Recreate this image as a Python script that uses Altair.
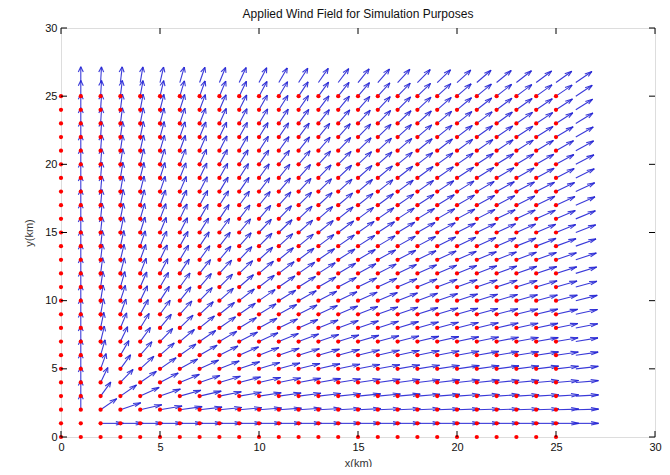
import math
import altair as alt
import pandas as pd

# ---- data -------------------------------------------------------------
dot_x = [0, 1, 2, 3, 4, 5, 6, 7, 8, 9, 10, 11, 12, 13, 14, 15, 16, 17, 18, 19, 20, 21, 22, 23, 24, 25]
dot_y = [0, 1, 2, 3, 4, 5, 6, 7, 8, 9, 10, 11, 12, 13, 14, 15, 16, 17, 18, 19, 20, 21, 22, 23, 24, 25]
arrow_x = [1, 2, 3, 4, 5, 6, 7, 8, 9, 10, 11, 12, 13, 14, 15, 16, 17, 18, 19, 20, 21, 22, 23, 24, 25, 26]
arrow_y = [1, 2, 3, 4, 5, 6, 7, 8, 9, 10, 11, 12, 13, 14, 15, 16, 17, 18, 19, 20, 21, 22, 23, 24, 25, 26]
field_source = [1, 1]        # the wind radiates away from this grid point
arrow_length = 1.15          # km, drawn length of each wind arrow
x_ticks = [0, 5, 10, 15, 20, 25, 30]
y_ticks = [0, 5, 10, 15, 20, 25, 30]

W, H = 594, 409
FONT = "Liberation Sans"

# ---- tables -----------------------------------------------------------
dots = pd.DataFrame([{"x": x, "y": y} for x in dot_x for y in dot_y])

segs = []
alpha, beta = 0.33, 0.33   # MATLAB quiver arrow-head proportions
for x in arrow_x:
    for y in arrow_y:
        dx, dy = x - field_source[0], y - field_source[1]
        r = math.hypot(dx, dy)
        if r == 0:
            continue
        u, v = arrow_length * dx / r, arrow_length * dy / r
        tx, ty = x + u, y + v
        segs.append({"x": x, "y": y, "x2": tx, "y2": ty})
        segs.append({"x": tx - alpha * (u + beta * v), "y": ty - alpha * (v - beta * u), "x2": tx, "y2": ty})
        segs.append({"x": tx - alpha * (u - beta * v), "y": ty - alpha * (v + beta * u), "x2": tx, "y2": ty})
segs = pd.DataFrame(segs)

xt = pd.DataFrame({"t": x_ticks})
yt = pd.DataFrame({"t": y_ticks})

xs = alt.Scale(domain=[0, 30], nice=False, zero=False)
ys = alt.Scale(domain=[0, 30], nice=False, zero=False)

xaxis = alt.Axis(values=x_ticks, title="x(km)", grid=False, ticks=False, domain=False,
                 labelFont=FONT, labelFontSize=11, labelColor="#111", labelPadding=4,
                 titleFont=FONT, titleFontSize=11, titleFontWeight="normal", titleColor="#333",
                 titlePadding=5, labelFlush=False)
yaxis = alt.Axis(values=y_ticks, title="y(km)", grid=False, ticks=False, domain=False,
                 labelFont=FONT, labelFontSize=11, labelColor="#111", labelPadding=4,
                 titleFont=FONT, titleFontSize=11, titleFontWeight="normal", titleColor="#333",
                 titlePadding=10, labelFlush=False)

arrows = alt.Chart(segs).mark_rule(color="#2424d4", strokeWidth=1.1, opacity=0.9).encode(
    x=alt.X("x:Q", scale=xs, axis=xaxis),
    y=alt.Y("y:Q", scale=ys, axis=yaxis),
    x2="x2:Q",
    y2="y2:Q",
)

points = alt.Chart(dots).mark_point(filled=True, color="#ff0000", size=18, opacity=1).encode(
    x=alt.X("x:Q", scale=xs),
    y=alt.Y("y:Q", scale=ys),
)

tk = 6
tick_b = alt.Chart(xt).mark_rule(color="#000").encode(
    x=alt.X("t:Q", scale=xs), y=alt.value(H), y2=alt.value(H - tk))
tick_t = alt.Chart(xt).mark_rule(color="#000").encode(
    x=alt.X("t:Q", scale=xs), y=alt.value(0), y2=alt.value(tk))
tick_l = alt.Chart(yt).mark_rule(color="#000").encode(
    y=alt.Y("t:Q", scale=ys), x=alt.value(0), x2=alt.value(tk))
tick_r = alt.Chart(yt).mark_rule(color="#000").encode(
    y=alt.Y("t:Q", scale=ys), x=alt.value(W), x2=alt.value(W - tk))

chart = alt.layer(arrows, points, tick_b, tick_t, tick_l, tick_r).properties(
    width=W,
    height=H,
    title=alt.TitleParams("Applied Wind Field for Simulation Purposes", font=FONT,
                          fontSize=12, fontWeight="normal", color="#111", offset=1),
    autosize=alt.AutoSizeParams(type="none"),
    padding={"left": 53, "top": 20, "right": 7, "bottom": 30},
).configure_view(stroke="#000", strokeWidth=1).configure(background="white")

chart.save("out.html", embed_options={"renderer": "svg", "actions": False})
